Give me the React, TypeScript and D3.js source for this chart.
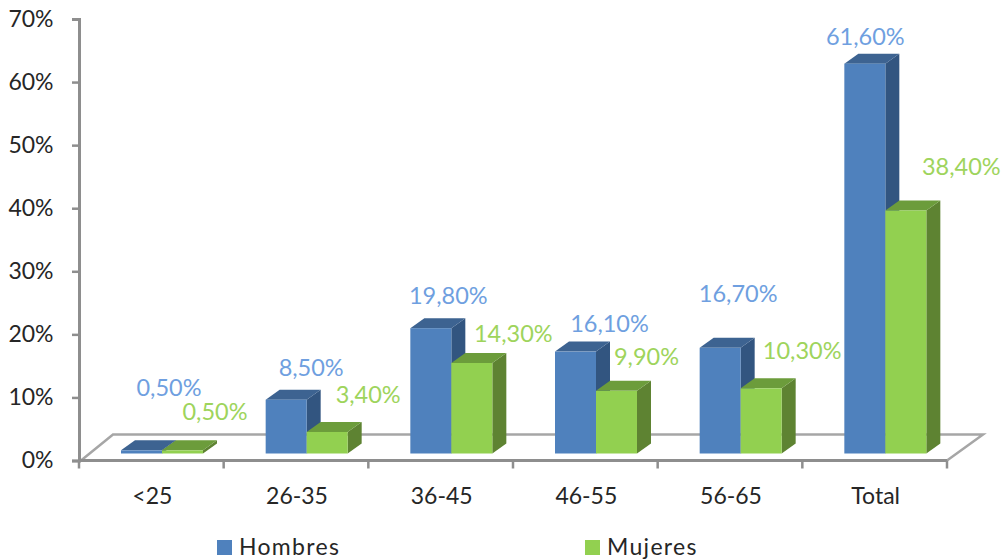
import { useEffect, useRef } from 'react'
import * as d3 from 'd3'

const categories = ['<25', '26-35', '36-45', '46-55', '56-65', 'Total']
const hombres = [0.5, 8.5, 19.8, 16.1, 16.7, 61.6]
const mujeres = [0.5, 3.4, 14.3, 9.9, 10.3, 38.4]
const yTicks = [0, 10, 20, 30, 40, 50, 60, 70]

// labels were moved by hand in the original, so each one has its own nudge
const hombresNudge = [[27.5, -54], [25, -24], [17.5, -24], [34, -20], [18, -46], [0.5, -19]]
const mujeresNudge = [[32.5, -30], [41, -29], [41.5, -21], [30, -26], [41, -29], [55.5, -35]]

const series = [
  { name: 'Hombres', values: hombres, nudge: hombresNudge, front: '#4f81bd', top: '#3d6391', side: '#325580', label: '#6f9fe0', legendX: 217 },
  { name: 'Mujeres', values: mujeres, nudge: mujeresNudge, front: '#92d050', top: '#6c9c3b', side: '#5e8332', label: '#9ed45c', legendX: 585 },
]

const fmt = (v: number) => v.toFixed(2).replace('.', ',') + '%'
const fontFamily = 'Lato, "Open Sans", sans-serif'

export default function App() {
  const ref = useRef<SVGSVGElement>(null)

  useEffect(() => {
    if (!ref.current) return
    const svg = d3.select(ref.current)
    svg.selectAll('*').remove()

    const x = d3.scaleBand().domain(categories).range([79, 947])
    const y = d3.scaleLinear().domain([0, 70]).range([460.5, 19])
    // front faces of the bars stand on the floor, a bit above the axis
    const yBar = d3.scaleLinear().domain([0, 70]).range([453.5, 10.5])
    const barW = 41
    const barOffset = 42
    const dx = 14
    const dy = 10
    const axisColor = '#8e8e8e'

    // Floor
    const floorLeft = 79
    const floorRight = 947
    svg.append('path')
      .attr('d', `M${floorLeft + 2},${y(0)} L${floorLeft + 34},434.5 L983,434.5 L${floorRight},${y(0)}`)
      .attr('fill', '#fff')
      .attr('stroke', '#a6a6a6')
      .attr('stroke-width', 2.5)

    // Axes
    const yAxis = svg.append('g').attr('transform', `translate(${floorLeft},0)`)
      .call(d3.axisLeft(y).tickValues(yTicks).tickSize(7).tickFormat(d => `${d}%`))
    yAxis.select('.domain').attr('stroke', axisColor).attr('stroke-width', 3)
    yAxis.selectAll('.tick line').attr('stroke', axisColor).attr('stroke-width', 2.5)
    yAxis.selectAll('.tick text')
      .attr('x', -25.5)
      .attr('dy', '0.32em')
      .style('font-family', fontFamily)
      .style('font-size', '23px')
      .style('fill', '#262626')

    const xAxis = svg.append('g').attr('transform', `translate(0,${y(0)})`)
    xAxis.append('line')
      .attr('x1', floorLeft).attr('x2', floorRight)
      .attr('stroke', axisColor).attr('stroke-width', 3)
    d3.range(categories.length + 1).forEach(i => {
      const tx = floorLeft + i * x.step()
      xAxis.append('line')
        .attr('x1', tx).attr('x2', tx)
        .attr('y1', 0).attr('y2', 8)
        .attr('stroke', axisColor).attr('stroke-width', 2.5)
    })
    categories.forEach(c => {
      xAxis.append('text')
        .attr('x', x(c)! + x.bandwidth() / 2 + 1)
        .attr('y', 43)
        .attr('text-anchor', 'middle')
        .style('font-family', fontFamily)
        .style('font-size', '23px')
        .style('fill', '#262626')
        .text(c)
    })

    // Bars
    categories.forEach((c, i) => {
      series.forEach((s, k) => {
        const left = x(c)! + barOffset + k * barW
        const right = left + barW
        const top = yBar(s.values[i])
        const base = yBar(0)
        const g = svg.append('g')
        g.append('path')
          .attr('d', `M${right},${top} L${right + dx},${top - dy} L${right + dx},${base - dy} L${right},${base} Z`)
          .attr('fill', s.side)
        g.append('path')
          .attr('d', `M${left},${top} L${left + dx},${top - dy} L${right + dx},${top - dy} L${right},${top} Z`)
          .attr('fill', s.top)
        g.append('rect')
          .attr('x', left).attr('y', top)
          .attr('width', barW).attr('height', base - top)
          .attr('fill', s.front)
      })
    })

    // Value labels on top of everything
    categories.forEach((c, i) => {
      series.forEach((s, k) => {
        svg.append('text')
          .attr('x', x(c)! + barOffset + k * barW + barW / 2 + s.nudge[i][0])
          .attr('y', yBar(s.values[i]) + s.nudge[i][1])
          .attr('text-anchor', 'middle')
          .style('font-family', fontFamily)
          .style('font-size', '23.5px')
          .style('fill', s.label)
          .text(fmt(s.values[i]))
      })
    })

    // Legend
    series.forEach(s => {
      svg.append('rect')
        .attr('x', s.legendX).attr('y', 540)
        .attr('width', 15).attr('height', 15)
        .attr('fill', s.front)
      svg.append('text')
        .attr('x', s.legendX + 22).attr('y', 555)
        .style('font-family', fontFamily)
        .style('font-size', '23px')
        .style('letter-spacing', '1.3px')
        .style('fill', '#262626')
        .text(s.name)
    })
  }, [])

  return (
    <svg
      ref={ref}
      width={1003}
      height={559}
      style={{ position: 'absolute', left: 0, top: 0, background: '#fff' }}
    />
  )
}
